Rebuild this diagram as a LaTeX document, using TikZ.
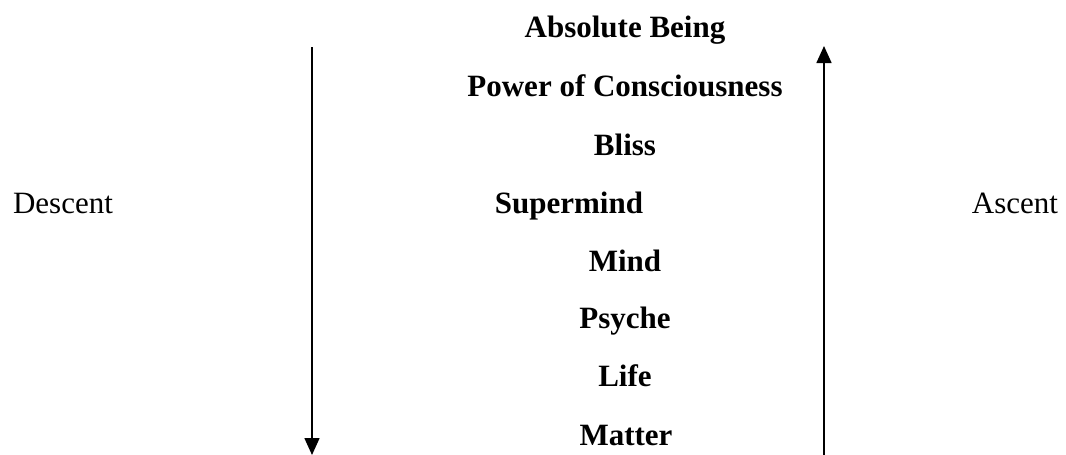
\documentclass[tikz,border=0pt]{standalone}
\usepackage{fontspec}
\setmainfont{Liberation Serif}
\usetikzlibrary{arrows.meta}
\tikzset{
  lvl/.style={anchor=base, inner sep=0pt, font=\fontsize{31}{37}\selectfont\bfseries},
  side/.style={anchor=base, inner sep=0pt, font=\fontsize{31}{37}\selectfont},
  flow/.style={line width=1.6pt, -{Triangle[length=17pt,width=15pt]}}
}
\begin{document}
\begin{tikzpicture}[x=1pt,y=-1pt]
\useasboundingbox (0,0) rectangle (1066,455);
\node[lvl] (ab) at (625,37) {Absolute Being};
\node[lvl] (pc) at (625,96) {Power of Consciousness};
\node[lvl] (bl) at (625,155) {Bliss};
\node[lvl] (sm) at (569,213) {Supermind};
\node[lvl] (mi) at (625,271) {Mind};
\node[lvl] (ps) at (625,328) {Psyche};
\node[lvl] (li) at (625,386) {Life};
\node[lvl] (ma) at (626,445) {Matter};
\node[side] (de) at (63,213) {Descent};
\node[side] (as) at (1015,213) {Ascent};
\coordinate (dtop) at (312,47);
\coordinate (dbot) at (312,455);
\coordinate (abot) at (824,455);
\coordinate (atop) at (824,46);
\draw[flow] (dtop) -- (dbot);
\draw[flow] (abot) -- (atop);
\end{tikzpicture}
\end{document}
